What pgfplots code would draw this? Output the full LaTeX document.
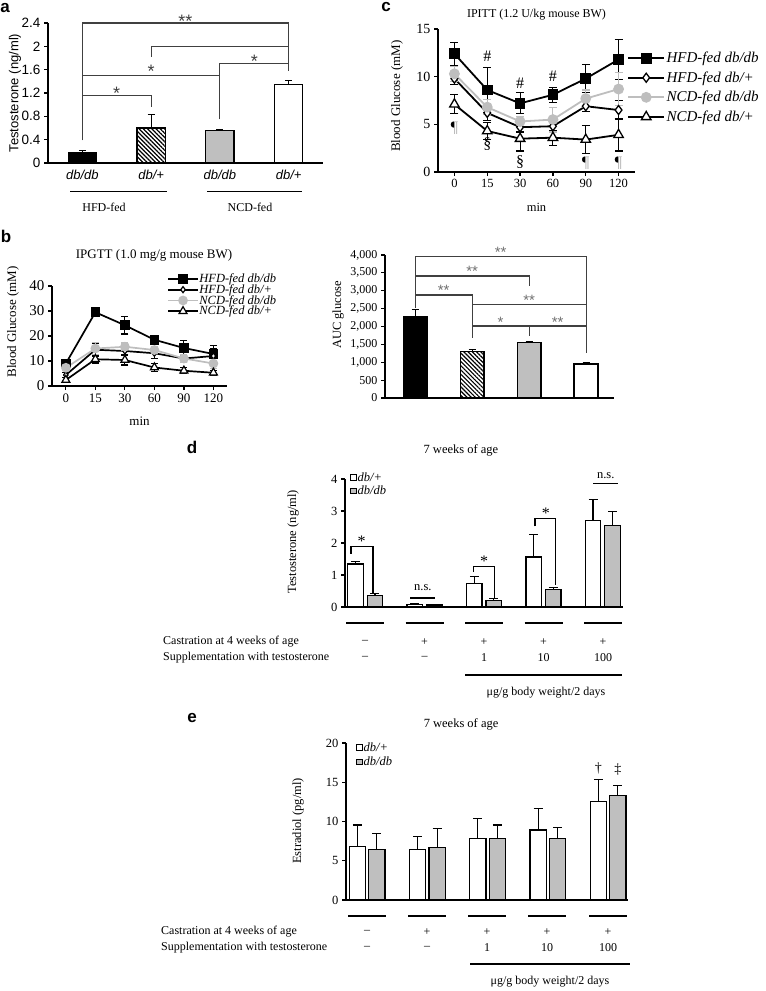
\documentclass[border=0pt]{standalone}
\usepackage{fontspec}
\setmainfont{Liberation Serif}
\newfontfamily\arial{Liberation Sans}
\usepackage{pgfplots}
\pgfplotsset{compat=1.18}
\usetikzlibrary{patterns.meta}
\definecolor{barg}{HTML}{BFBFBF}
\definecolor{ptg}{HTML}{BEBEBE}
\definecolor{pilc}{HTML}{A0A0A0}
\definecolor{brk}{HTML}{404040}
\definecolor{stg}{HTML}{707070}
\newcommand{\fs}[1]{\fontsize{#1}{#1}\selectfont}
\pgfplotsset{
 base/.style={scale only axis, anchor=south west, axis lines*=left, clip=false,
   axis line style={line width=1.2pt, black}, tick align=outside, major tick length=4pt,
   tick style={line width=1.2pt, black},
   every axis title shift=0pt,
   every axis title/.style={at={(0.5,1)}, anchor=center},
   /pgf/number format/assume math mode=true,
   scaled y ticks=false},
 ebplus/.style={error bars/y dir=plus, error bars/y explicit,
   error bars/error bar style={line width=1.2pt, black, solid},
   error bars/error mark options={rotate=90, mark size=#1, line width=1.2pt, black, solid}},
 ebboth/.style 2 args={error bars/y dir=both, error bars/y explicit,
   error bars/error bar style={line width=1.1pt, #2, solid},
   error bars/error mark options={rotate=90, mark size=#1, line width=1.1pt, #2, solid}},
 barst/.style={ybar, bar shift=0pt, draw=black, line width=1.3pt},
}
\newcommand{\pil}[1]{%
  \node[font=\fs{16}, text=pilc] at (#1) {¶};
  \begin{scope}
    \clip (#1) ++(-12pt,-12pt) rectangle ++(11pt,24pt);
    \node[font=\fs{16}, text=black] at (#1) {¶};
  \end{scope}}
\begin{document}
\begin{tikzpicture}[x=1pt,y=1pt]
\path[use as bounding box] (0,0) rectangle (766,-991);

% ---------------- Panel a ----------------
\node[font=\arial\bfseries\fs{17}] at (5,-8) {a};
\begin{axis}[base, at={(48pt,-163pt)}, width=275pt, height=140pt,
 xmin=-0.5, xmax=3.5, ymin=0, ymax=2.4,
 ytick={0,0.4,0.8,1.2,1.6,2,2.4}, yticklabels={0,0.4,0.8,1.2,1.6,2,2.4},
 xtick={0,1,2,3}, xticklabels={db/db,db/+,db/db,db/+},
 xtick style={draw=none},
 y tick label style={font=\arial\fs{13.5}},
 x tick label style={font=\arial\itshape\fs{13}},
 ylabel={Testosterone (ng/ml)},
 ylabel style={font=\arial\fs{13}, at={(axis description cs:-0.12,0.5)}, anchor=center},
]
\addplot[barst, bar width=0.41, fill=black, ebplus=3.5pt] coordinates {(0,0.18) +- (0,0.04)};
\addplot[barst, bar width=0.41, fill=white, pattern={Lines[angle=-45,distance=3pt,line width=1.2pt]}, pattern color=black, ebplus=3.5pt] coordinates {(1,0.60) +- (0,0.23)};
\addplot[barst, bar width=0.41, fill=barg, ebplus=3.5pt] coordinates {(2,0.56) +- (0,0.02)};
\addplot[barst, bar width=0.41, fill=white, ebplus=3.5pt] coordinates {(3,1.35) +- (0,0.07)};
\draw[line width=1.1pt, brk] (axis cs:0,0.39) -- (axis cs:0,2.4) -- (axis cs:3,2.4) -- (axis cs:3,1.57);
\draw[line width=1.1pt, brk] (axis cs:1,1.82) -- (axis cs:1,2.0) -- (axis cs:3,2.0);
\draw[line width=1.1pt, brk] (axis cs:0,1.5) -- (axis cs:2,1.5);
\draw[line width=1.1pt, brk] (axis cs:2,0.75) -- (axis cs:2,1.71) -- (axis cs:3,1.71);
\draw[line width=1.1pt, brk] (axis cs:0,1.15) -- (axis cs:1,1.15) -- (axis cs:1,0.96);
\node[text=brk, font=\arial\fs{18}] at (axis cs:1.5,2.43) {**};
\node[text=brk, font=\arial\fs{18}] at (axis cs:1,1.58) {*};
\node[text=brk, font=\arial\fs{18}] at (axis cs:2.5,1.74) {*};
\node[text=brk, font=\arial\fs{18}] at (axis cs:0.5,1.19) {*};
\end{axis}
\draw[line width=1pt] (70,-191) -- (167,-191);
\draw[line width=1pt] (207,-191) -- (302,-191);
\node[font=\fs{12}] at (104,-207) {HFD-fed};
\node[font=\fs{12}] at (250,-207) {NCD-fed};

% ---------------- Panel c ----------------
\node[font=\arial\bfseries\fs{17}] at (386,-7) {c};
\begin{axis}[base, at={(438pt,-172pt)}, width=197pt, height=143pt,
 xmin=-0.5, xmax=5.5, ymin=0, ymax=15,
 ytick={0,5,10,15}, xtick={0,1,2,3,4,5}, xticklabels={0,15,30,60,90,120},
 x tick label style={font=\fs{12.5}}, y tick label style={font=\fs{14}},
 title={IPITT (1.2 U/kg mouse BW)},
 title style={font=\fs{12}, at={(axis description cs:0.5,1.098)}, anchor=center},
 xlabel={min}, xlabel style={font=\fs{12.5}, at={(axis description cs:0.5,-0.245)}, anchor=center},
 ylabel={Blood Glucose (mM)},
 ylabel style={font=\fs{13}, at={(axis description cs:-0.208,0.53)}, anchor=center},
 legend style={at={(axis description cs:0.96,0.85)}, anchor=north west, draw=none, fill=none,
   font=\itshape\fs{15}, row sep=4.5pt, inner sep=0pt, nodes={inner sep=1.5pt}},
 legend cell align=left,
 legend image code/.code={\draw[mark repeat=2, mark phase=2, #1] plot coordinates {(0pt,0pt) (18pt,0pt) (36pt,0pt)};},
]
\addplot[black, line width=1.8pt, mark=square*, mark size=4.5pt, mark options={solid, fill=black}, ebboth={4pt}{black}]
 coordinates {(0,12.4) +- (0,1.2) (1,8.6) +- (0,2.4) (2,7.2) +- (0,1.1) (3,8.1) +- (0,0.8) (4,9.8) +- (0,1.5) (5,11.8) +- (0,2.1)};
\addlegendentry{HFD-fed db/db}
\addplot[black, line width=1.8pt, mark=diamond*, mark size=4.5pt, mark options={solid, fill=white, line width=1.3pt}, ebboth={4pt}{black}]
 coordinates {(0,9.8) +- (0,0.6) (1,6.2) +- (0,0.8) (2,4.7) +- (0,0.5) (3,4.8) +- (0,0.6) (4,6.9) +- (0,0.6) (5,6.5) +- (0,1.0)};
\addlegendentry{HFD-fed db/+}
\addplot[ptg, line width=1.8pt, mark=*, mark size=4.5pt, mark options={solid, fill=ptg, draw=ptg}, ebboth={4pt}{ptg}]
 coordinates {(0,10.3) +- (0,0.8) (1,6.8) +- (0,0.8) (2,5.3) +- (0,0.5) (3,5.5) +- (0,1.3) (4,7.7) +- (0,0.9) (5,8.7) +- (0,1.7)};
\addlegendentry{NCD-fed db/db}
\addplot[black, line width=1.8pt, mark=triangle*, mark size=5.5pt, mark options={solid, fill=white, line width=1.3pt}, ebboth={4pt}{black}]
 coordinates {(0,7.1) +- (0,1.0) (1,4.3) +- (0,0.9) (2,3.5) +- (0,1.3) (3,3.6) +- (0,0.8) (4,3.4) +- (0,1.5) (5,3.9) +- (0,1.7)};
\addlegendentry{NCD-fed db/+}
\node[font=\fs{16}] at (axis cs:1,12.1) {\#};
\node[font=\fs{16}] at (axis cs:2,9.3) {\#};
\node[font=\fs{16}] at (axis cs:3,10.0) {\#};
\pil{axis cs:0,4.6}
\pil{axis cs:4,0.95}
\pil{axis cs:5,0.95}
\node[font=\fs{16}] at (axis cs:1,2.9) {§};
\node[font=\fs{16}] at (axis cs:2,1.0) {§};
\end{axis}

% ---------------- Panel b (left) ----------------
\node[font=\arial\bfseries\fs{17}] at (6,-236) {b};
\begin{axis}[base, at={(52pt,-386pt)}, width=175pt, height=100pt,
 xmin=-0.47, xmax=5.46, ymin=0, ymax=40,
 ytick={0,10,20,30,40}, xtick={0,1,2,3,4,5}, xticklabels={0,15,30,60,90,120},
 x tick label style={font=\fs{13}}, y tick label style={font=\fs{15}},
 title={IPGTT (1.0 mg/g mouse BW)},
 title style={font=\fs{13}, at={(axis description cs:0.583,1.31)}, anchor=center},
 xlabel={min}, xlabel style={font=\fs{13}, at={(axis description cs:0.5,-0.35)}, anchor=center},
 ylabel={Blood Glucose (mM)},
 ylabel style={font=\fs{13}, at={(axis description cs:-0.223,0.64)}, anchor=center},
 legend style={at={(axis description cs:0.657,1.13)}, anchor=north west, draw=none, fill=none,
   font=\itshape\fs{12.5}, row sep=-0.5pt, inner sep=0pt, nodes={inner sep=0.5pt}},
 legend cell align=left,
 legend image code/.code={\draw[mark repeat=2, mark phase=2, #1] plot coordinates {(0pt,0pt) (15pt,0pt) (30pt,0pt)};},
]
\addplot[black, line width=1.7pt, mark=square*, mark size=4pt, mark options={solid, fill=black}, ebboth={3.5pt}{black}]
 coordinates {(0,9.0) +- (0,0.8) (1,29.5) +- (0,1.2) (2,24.3) +- (0,3.5) (3,18.5) +- (0,1.5) (4,15.2) +- (0,3.0) (5,12.8) +- (0,3.5)};
\addlegendentry{HFD-fed db/db}
\addplot[black, line width=1.7pt, mark=diamond*, mark size=3pt, mark options={solid, fill=white, line width=1.2pt}, ebboth={3.5pt}{black}]
 coordinates {(0,4.4) +- (0,1.0) (1,14.5) +- (0,2.5) (2,14.0) +- (0,1.5) (3,13.1) +- (0,2.0) (4,11.0) +- (0,1.5) (5,12.0) +- (0,3.0)};
\addlegendentry{HFD-fed db/+}
\addplot[ptg, line width=1.7pt, mark=*, mark size=4pt, mark options={solid, fill=ptg, draw=ptg}, ebboth={3.5pt}{ptg}]
 coordinates {(0,7.3) +- (0,1.0) (1,15.0) +- (0,2.5) (2,15.7) +- (0,1.5) (3,14.4) +- (0,1.2) (4,11.0) +- (0,1.5) (5,9.0) +- (0,2.0)};
\addlegendentry{NCD-fed db/db}
\addplot[black, line width=1.7pt, mark=triangle*, mark size=4.6pt, mark options={solid, fill=white, line width=1.2pt}, ebboth={3.5pt}{black}]
 coordinates {(0,2.4) +- (0,1.0) (1,10.7) +- (0,1.5) (2,10.4) +- (0,2.0) (3,7.4) +- (0,1.5) (4,6.1) +- (0,1.2) (5,5.3) +- (0,1.0)};
\addlegendentry{NCD-fed db/+}
\end{axis}

% ---------------- Panel b (right) ----------------
\begin{axis}[base, at={(385pt,-398pt)}, width=229pt, height=143pt,
 xmin=-0.53, xmax=3.49, ymin=0, ymax=4000,
 ytick={0,500,1000,1500,2000,2500,3000,3500,4000}, xtick=\empty,
 /pgf/number format/1000 sep={,},
 y tick label style={font=\fs{12}},
 ylabel={AUC glucose},
 ylabel style={font=\fs{12.5}, at={(axis description cs:-0.205,0.58)}, anchor=center},
]
\addplot[barst, bar width=0.42, fill=black, ebplus=3.5pt] coordinates {(0,2270) +- (0,210)};
\addplot[barst, bar width=0.42, fill=white, pattern={Lines[angle=-45,distance=3pt,line width=1.2pt]}, pattern color=black, ebplus=3.5pt] coordinates {(1,1295) +- (0,65)};
\addplot[barst, bar width=0.42, fill=barg, ebplus=3.5pt] coordinates {(2,1550) +- (0,30)};
\addplot[barst, bar width=0.42, fill=white, ebplus=3.5pt] coordinates {(3,950) +- (0,40)};
\draw[line width=1.1pt, brk] (axis cs:0,2530) -- (axis cs:0,3950) -- (axis cs:3,3950) -- (axis cs:3,1260);
\draw[line width=1.1pt, brk] (axis cs:0,3413) -- (axis cs:2,3413) -- (axis cs:2,3130);
\draw[line width=1.1pt, brk] (axis cs:0,2880) -- (axis cs:1,2880) -- (axis cs:1,1680);
\draw[line width=1.1pt, brk] (axis cs:1,2610) -- (axis cs:3,2610);
\draw[line width=1.1pt, brk] (axis cs:1,2015) -- (axis cs:3,2015);
\draw[line width=1.1pt, brk] (axis cs:2,2015) -- (axis cs:2,1734);
\node[text=stg, font=\arial\fs{15}] at (axis cs:1.5,4080) {**};
\node[text=stg, font=\arial\fs{15}] at (axis cs:1.0,3550) {**};
\node[text=stg, font=\arial\fs{15}] at (axis cs:0.5,3000) {**};
\node[text=stg, font=\arial\fs{15}] at (axis cs:2.0,2720) {**};
\node[text=stg, font=\arial\fs{15}] at (axis cs:1.5,2130) {*};
\node[text=stg, font=\arial\fs{15}] at (axis cs:2.5,2130) {**};
\end{axis}

% ---------------- Panel d ----------------
\node[font=\arial\bfseries\fs{17}] at (192,-447) {d};
\begin{axis}[base, at={(345pt,-607pt)}, width=278pt, height=128pt,
 xmin=-0.34, xmax=4.34, ymin=0, ymax=4,
 ytick={0,1,2,3,4}, xtick=\empty,
 y tick label style={font=\fs{12.5}},
 title={7 weeks of age},
 title style={font=\fs{12.5}, at={(axis description cs:0.417,1.22)}, anchor=center},
 ylabel={Testosterone (ng/ml)},
 ylabel style={font=\fs{12.5}, at={(axis description cs:-0.187,0.51)}, anchor=center},
 legend style={at={(axis description cs:0.018,1.06)}, anchor=north west, draw=none, fill=none,
   font=\itshape\fs{12.5}, row sep=1pt, inner sep=0pt, nodes={inner sep=1pt}},
 legend cell align=left,
 legend image code/.code={\draw[#1, line width=0.9pt] (0pt,-2.8pt) rectangle (5.6pt,2.8pt);},
]
\addplot[barst, bar width=0.26, fill=white, ebplus=4.5pt] coordinates
 {(-0.164,1.34) +- (0,0.09) (0.836,0.08) +- (0,0.03) (1.836,0.74) +- (0,0.21) (2.836,1.56) +- (0,0.70) (3.836,2.71) +- (0,0.64)};
\addlegendentry{db/+}
\addplot[barst, bar width=0.26, fill=barg, ebplus=4.5pt] coordinates
 {(0.164,0.37) +- (0,0.05) (1.164,0.06) +- (0,0.03) (2.164,0.20) +- (0,0.06) (3.164,0.54) +- (0,0.06) (4.164,2.54) +- (0,0.45)};
\addlegendentry{db/db}
\draw[line width=1.2pt] (axis cs:-0.24,1.67) -- (axis cs:-0.24,1.9) -- (axis cs:0.13,1.9) -- (axis cs:0.13,0.44);
\node[font=\fs{16}] at (axis cs:-0.06,2.06) {*};
\draw[line width=1.2pt] (axis cs:0.76,0.28) -- (axis cs:1.17,0.28);
\node[font=\fs{12.5}] at (axis cs:0.97,0.62) {n.s.};
\draw[line width=1.2pt] (axis cs:1.82,1.09) -- (axis cs:1.82,1.27) -- (axis cs:2.17,1.27) -- (axis cs:2.17,0.26);
\node[font=\fs{16}] at (axis cs:2.0,1.44) {*};
\draw[line width=1.2pt] (axis cs:2.86,2.52) -- (axis cs:2.86,2.76) -- (axis cs:3.2,2.76) -- (axis cs:3.2,0.68);
\node[font=\fs{16}] at (axis cs:3.04,2.93) {*};
\draw[line width=1.2pt] (axis cs:3.84,3.85) -- (axis cs:4.26,3.85);
\node[font=\fs{12.5}] at (axis cs:4.05,4.12) {n.s.};
\end{axis}
\foreach \x/\a/\b in {365/–/–, 424.5/+/–, 484/+/1, 543.5/+/10, 603/+/100} {
  \draw[line width=1.3pt] ({\x-19},-623) -- ({\x+19},-623);
  \node[font=\fs{12}] at (\x,-642) {\a};
  \node[font=\fs{12}] at (\x,-658) {\b};
}
\node[font=\fs{12}, anchor=west, inner sep=0pt] at (163,-642) {Castration at 4 weeks of age};
\node[font=\fs{12}, anchor=west, inner sep=0pt] at (163,-658) {Supplementation with testosterone};
\draw[line width=1.3pt] (465,-675) -- (622,-675);
\node[font=\fs{12}] at (546,-693) {μg/g body weight/2 days};

% ---------------- Panel e ----------------
\node[font=\arial\bfseries\fs{17}] at (192,-718) {e};
\begin{axis}[base, at={(346pt,-900pt)}, width=282pt, height=157pt,
 xmin=-0.35, xmax=4.33, ymin=0, ymax=20,
 ytick={0,5,10,15,20}, xtick=\empty,
 y tick label style={font=\fs{12.5}},
 title={7 weeks of age},
 title style={font=\fs{12.5}, at={(axis description cs:0.408,1.12)}, anchor=center},
 ylabel={Estradiol (pg/ml)},
 ylabel style={font=\fs{12.5}, at={(axis description cs:-0.17,0.503)}, anchor=center},
 legend style={at={(axis description cs:0.035,1.01)}, anchor=north west, draw=none, fill=none,
   font=\itshape\fs{12.5}, row sep=2pt, inner sep=0pt, nodes={inner sep=1pt}},
 legend cell align=left,
 legend image code/.code={\draw[#1, line width=0.9pt] (0pt,-2.8pt) rectangle (5.6pt,2.8pt);},
]
\addplot[barst, bar width=0.27, fill=white, ebplus=4.5pt] coordinates
 {(-0.162,6.8) +- (0,2.75) (0.838,6.45) +- (0,1.6) (1.838,7.8) +- (0,2.6) (2.838,8.9) +- (0,2.8) (3.838,12.55) +- (0,2.85)};
\addlegendentry{db/+}
\addplot[barst, bar width=0.27, fill=barg, ebplus=4.5pt] coordinates
 {(0.162,6.45) +- (0,2.0) (1.162,6.7) +- (0,2.45) (2.162,7.8) +- (0,1.75) (3.162,7.8) +- (0,1.45) (4.162,13.3) +- (0,1.3)};
\addlegendentry{db/db}
\node[font=\fs{14}] at (axis cs:3.838,16.8) {†};
\node[font=\fs{14}] at (axis cs:4.162,16.6) {‡};
\end{axis}
\foreach \x/\a/\b in {367/–/–, 427/+/–, 487/+/1, 547/+/10, 608/+/100} {
  \draw[line width=1.3pt] ({\x-19},-916) -- ({\x+19},-916);
  \node[font=\fs{12}] at (\x,-932) {\a};
  \node[font=\fs{12}] at (\x,-948) {\b};
}
\node[font=\fs{12}, anchor=west, inner sep=0pt] at (161,-932) {Castration at 4 weeks of age};
\node[font=\fs{12}, anchor=west, inner sep=0pt] at (161,-948) {Supplementation with testosterone};
\draw[line width=1.3pt] (470,-964) -- (630,-964);
\node[font=\fs{12}] at (550,-982) {μg/g body weight/2 days};
\end{tikzpicture}
\end{document}
